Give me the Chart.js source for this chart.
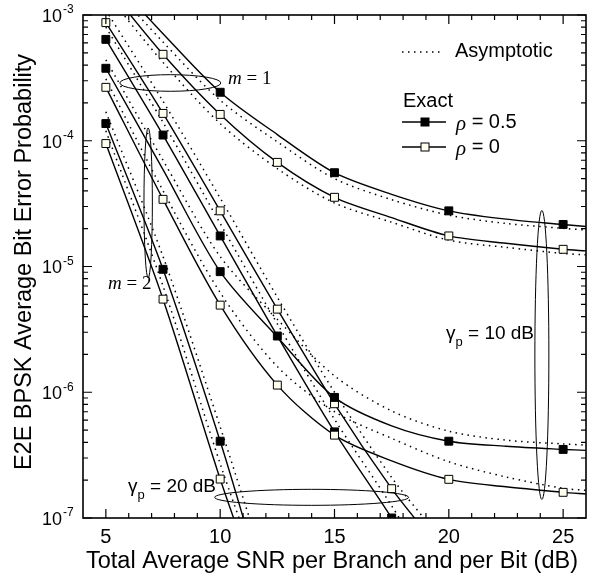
<!DOCTYPE html>
<html>
<head>
<meta charset="utf-8">
<script src="https://cdn.jsdelivr.net/npm/chart.js@4.4.1/dist/chart.umd.min.js"></script>
<style>
  html, body { margin: 0; padding: 0; background: #fff; }
  #wrap { width: 600px; height: 578px; }
</style>
</head>
<body>
<div id="wrap"><canvas id="berChart" width="600" height="578"></canvas></div>
<script>
// SNR-Raster (dB) je Kurvengruppe
const snrA = [5, 7.5, 10, 12.5, 15, 17.5, 20, 22.5, 25, 26];   // gamma_p = 10 dB
const snrB = [5, 7.5, 10, 12.5, 15, 17.5, 19];                 // m = 1, gamma_p = 20 dB
const snrC = [5, 7.5, 10, 11.5];                               // m = 2, gamma_p = 20 dB

// m = 1, gamma_p = 10 dB
const m1g10Rho05 = [2.2e-3, 7.1e-4, 2.43e-4, 1.12e-4, 5.57e-5, 3.75e-5, 2.77e-5, 2.38e-5, 2.16e-5, 2.08e-5];
const m1g10Rho0  = [1.74e-3, 4.87e-4, 1.62e-4, 6.73e-5, 3.55e-5, 2.45e-5, 1.75e-5, 1.53e-5, 1.37e-5, 1.33e-5];
const m1g10AsyRho05 = [1.9e-3, 6.1e-4, 2.1e-4, 9.8e-5, 5.0e-5, 3.4e-5, 2.56e-5, 2.2e-5, 2.01e-5, 1.95e-5];
const m1g10AsyRho0  = [1.5e-3, 4.2e-4, 1.37e-4, 6.0e-5, 3.2e-5, 2.25e-5, 1.62e-5, 1.42e-5, 1.27e-5, 1.24e-5];

// m = 2, gamma_p = 10 dB
const m2g10Rho05 = [3.77e-4, 5.9e-5, 9.1e-6, 2.75e-6, 9.1e-7, 5.4e-7, 4.08e-7, 3.72e-7, 3.51e-7, 3.45e-7];
const m2g10Rho0  = [2.66e-4, 3.42e-5, 4.93e-6, 1.14e-6, 4.56e-7, 2.85e-7, 2.03e-7, 1.77e-7, 1.6e-7, 1.55e-7];
const m2g10AsyRho05 = [4.4e-4, 7.0e-5, 1.2e-5, 3.8e-6, 1.35e-6, 7.1e-7, 4.9e-7, 4.16e-7, 3.88e-7, 3.8e-7];
const m2g10AsyRho0  = [3.1e-4, 4.0e-5, 6.2e-6, 1.6e-6, 7.0e-7, 4.3e-7, 2.8e-7, 2.12e-7, 1.72e-7, 1.66e-7];

// m = 1, gamma_p = 20 dB
const m1g20Rho05 = [6.4e-4, 1.11e-4, 1.75e-5, 2.8e-6, 4.84e-7, 1.0e-7, 3.5e-8];
const m1g20Rho0  = [8.7e-4, 1.65e-4, 2.77e-5, 4.58e-6, 8.1e-7, 1.71e-7, 7.7e-8];
const m1g20AsyRho05 = [8.0e-4, 1.4e-4, 2.2e-5, 3.5e-6, 6.1e-7, 1.25e-7, 4.4e-8];
const m1g20AsyRho0  = [1.09e-3, 2.06e-4, 3.5e-5, 5.7e-6, 1.0e-6, 2.1e-7, 9.5e-8];

// m = 2, gamma_p = 20 dB
const m2g20Rho05 = [1.37e-4, 9.5e-6, 4.08e-7, 5.0e-8];
const m2g20Rho0  = [9.5e-5, 5.5e-6, 2.04e-7, 3.4e-8];
const m2g20AsyRho05 = [1.7e-4, 1.2e-5, 5.3e-7, 7.5e-8];
const m2g20AsyRho0  = [1.2e-4, 7.0e-6, 2.7e-7, 4.5e-8];

// SNR-Werte mit Marker
const markM1g10Rho05 = [10, 15, 20, 25];
const markM1g10Rho0  = [7.5, 10, 12.5, 15, 20, 25];
const markM2g10Rho05 = [5, 10, 15, 20, 25];
const markM2g10Rho0  = [5, 7.5, 10, 12.5, 15, 20, 25];
const markM1g20      = [5, 7.5, 10, 12.5, 15, 17.5];
const markM2g20      = [5, 7.5, 10];

// Achsen
const xTicks = [5, 10, 15, 20, 25];
const yDecades = [-7, -6, -5, -4, -3];

const SANS = "'Liberation Sans', Arial, sans-serif";
const SERIF = "'Liberation Serif', 'Times New Roman', serif";

function exactSet(xs, ys, marks, filled) {
  return {
    data: xs.map((x, i) => ({ x: x, y: ys[i] })),
    borderColor: "#000",
    borderWidth: 1.4,
    pointStyle: "rect",
    pointRadius: xs.map(x => marks.includes(x) ? 5.6 : 0),
    pointBackgroundColor: filled ? "#000" : "#fffff2",
    pointBorderColor: "#000",
    pointBorderWidth: 1,
    tension: 0.3,
    fill: false,
    order: 1
  };
}

function asySet(xs, ys) {
  return {
    data: xs.map((x, i) => ({ x: x, y: ys[i] })),
    borderColor: "#000",
    borderWidth: 1.5,
    borderDash: [1.5, 4.5],
    pointRadius: 0,
    tension: 0.3,
    fill: false,
    order: 2
  };
}

const datasets = [
  exactSet(snrA, m1g10Rho05, markM1g10Rho05, true),
  exactSet(snrA, m1g10Rho0, markM1g10Rho0, false),
  exactSet(snrA, m2g10Rho05, markM2g10Rho05, true),
  exactSet(snrA, m2g10Rho0, markM2g10Rho0, false),
  exactSet(snrB, m1g20Rho05, markM1g20, true),
  exactSet(snrB, m1g20Rho0, markM1g20, false),
  exactSet(snrC, m2g20Rho05, markM2g20, true),
  exactSet(snrC, m2g20Rho0, markM2g20, false),
  asySet(snrA, m1g10AsyRho05),
  asySet(snrA, m1g10AsyRho0),
  asySet(snrA, m2g10AsyRho05),
  asySet(snrA, m2g10AsyRho0),
  asySet(snrB, m1g20AsyRho05),
  asySet(snrB, m1g20AsyRho0),
  asySet(snrC, m2g20AsyRho05),
  asySet(snrC, m2g20AsyRho0)
];

// Rahmen, Ticks, Beschriftungen, Legende und Ellipsen
const decorPlugin = {
  id: "decor",
  afterDraw(chart) {
    const ctx = chart.ctx;
    const a = chart.chartArea;
    const xs = chart.scales.x;
    const ys = chart.scales.y;
    ctx.save();
    ctx.strokeStyle = "#000";
    ctx.fillStyle = "#000";

    // Rahmen
    ctx.lineWidth = 1.6;
    ctx.strokeRect(a.left, a.top, a.right - a.left, a.bottom - a.top);

    // Ticks x (innen, unten und oben)
    ctx.lineWidth = 1.2;
    ctx.beginPath();
    for (let v = 5; v <= 25; v++) {
      const px = xs.getPixelForValue(v);
      const len = v % 5 === 0 ? 9 : 5;
      ctx.moveTo(px, a.bottom); ctx.lineTo(px, a.bottom - len);
      ctx.moveTo(px, a.top); ctx.lineTo(px, a.top + len);
    }
    // Ticks y (innen, links und rechts)
    yDecades.forEach(d => {
      for (let k = 1; k <= 9; k++) {
        const v = k * Math.pow(10, d);
        if (v > 1.0001e-3) break;
        const py = ys.getPixelForValue(v);
        const len = k === 1 ? 9 : 5;
        ctx.moveTo(a.left, py); ctx.lineTo(a.left + len, py);
        ctx.moveTo(a.right, py); ctx.lineTo(a.right - len, py);
      }
    });
    ctx.stroke();

    // Tick-Beschriftung
    ctx.textBaseline = "middle";
    xTicks.forEach(v => {
      ctx.font = "20px " + SANS;
      ctx.textAlign = "center";
      ctx.fillText(String(v), xs.getPixelForValue(v), a.bottom + 19);
    });
    yDecades.forEach(d => {
      const py = ys.getPixelForValue(Math.pow(10, d));
      ctx.font = "18px " + SANS;
      ctx.textAlign = "right";
      ctx.fillText("10", a.left - 21, py + 2);
      ctx.font = "12px " + SANS;
      ctx.textAlign = "left";
      ctx.fillText(String(d), a.left - 20, py - 5);
    });

    // Achsentitel
    ctx.font = "23.5px " + SANS;
    ctx.textAlign = "center";
    ctx.fillText("Total Average SNR per Branch and per Bit (dB)", 332, 562);
    ctx.save();
    ctx.translate(25, 262);
    ctx.rotate(-Math.PI / 2);
    ctx.fillText("E2E BPSK Average Bit Error Probability", 0, 0);
    ctx.restore();

    // Legende
    ctx.lineWidth = 1.5;
    ctx.setLineDash([1.5, 4.5]);
    ctx.beginPath(); ctx.moveTo(402, 52); ctx.lineTo(444, 52); ctx.stroke();
    ctx.setLineDash([]);
    ctx.font = "20px " + SANS;
    ctx.textAlign = "left";
    ctx.fillText("Asymptotic", 455, 51);
    ctx.fillText("Exact", 403, 101);
    [[122, true, "0.5"], [147, false, "0"]].forEach(([ly, filled, val]) => {
      ctx.lineWidth = 1.4;
      ctx.beginPath(); ctx.moveTo(402, ly); ctx.lineTo(446, ly); ctx.stroke();
      ctx.fillStyle = filled ? "#000" : "#fffff2";
      ctx.fillRect(421, ly - 4, 8, 8);
      ctx.lineWidth = 1;
      ctx.strokeRect(421, ly - 4, 8, 8);
      ctx.fillStyle = "#000";
      ctx.font = "italic 21px " + SERIF;
      ctx.fillText("\u03c1", 456, ly + 2);
      const w = ctx.measureText("\u03c1").width;
      ctx.font = "20px " + SANS;
      ctx.fillText(" = " + val, 456 + w, ly);
    });

    // Ellipsen
    ctx.lineWidth = 1;
    const ellipse = (sx, sy, rx, ry) => {
      ctx.beginPath();
      ctx.ellipse(xs.getPixelForValue(sx), ys.getPixelForValue(sy), rx, ry, 0, 0, Math.PI * 2);
      ctx.stroke();
    };
    ellipse(7.82, 2.88e-4, 50.5, 8.3);   // m = 1
    ellipse(6.85, 3.2e-5, 4.2, 75);      // m = 2
    ellipse(24.07, 1.98e-6, 7, 144.5);   // gamma_p = 10 dB
    ellipse(14.0, 1.46e-7, 97, 8);       // gamma_p = 20 dB

    // m-Beschriftung
    const mLabel = (txt, x, y) => {
      ctx.font = "italic 19px " + SERIF;
      ctx.textAlign = "left";
      ctx.fillText("m", x, y);
      const w = ctx.measureText("m").width;
      ctx.font = "19px " + SERIF;
      ctx.fillText(" = " + txt, x + w, y);
    };
    mLabel("1", 228, 79);
    mLabel("2", 108, 284);

    // gamma_p-Beschriftung
    const gLabel = (txt, x, y) => {
      ctx.font = "19px " + SANS;
      ctx.textAlign = "left";
      ctx.fillText("\u03b3", x, y);
      const w = ctx.measureText("\u03b3").width;
      ctx.font = "13px " + SANS;
      ctx.fillText("p", x + w, y + 8);
      const wp = ctx.measureText("p").width;
      ctx.font = "19px " + SANS;
      ctx.fillText(" = " + txt, x + w + wp, y);
    };
    gLabel("10 dB", 446, 334);
    gLabel("20 dB", 128, 487);

    ctx.restore();
  }
};

new Chart(document.getElementById("berChart"), {
  type: "line",
  data: { datasets: datasets },
  options: {
    responsive: false,
    animation: false,
    layout: { padding: { top: 15, right: 14, left: 0, bottom: 0 } },
    plugins: {
      legend: { display: false },
      tooltip: { enabled: false }
    },
    scales: {
      x: {
        type: "linear",
        min: 4,
        max: 26,
        ticks: { display: false },
        grid: { display: false },
        border: { display: false },
        afterFit(scale) { scale.height = 60; }
      },
      y: {
        type: "logarithmic",
        min: 1e-7,
        max: 1e-3,
        ticks: { display: false },
        grid: { display: false },
        border: { display: false },
        afterFit(scale) { scale.width = 83; }
      }
    }
  },
  plugins: [decorPlugin]
});
</script>
</body>
</html>
